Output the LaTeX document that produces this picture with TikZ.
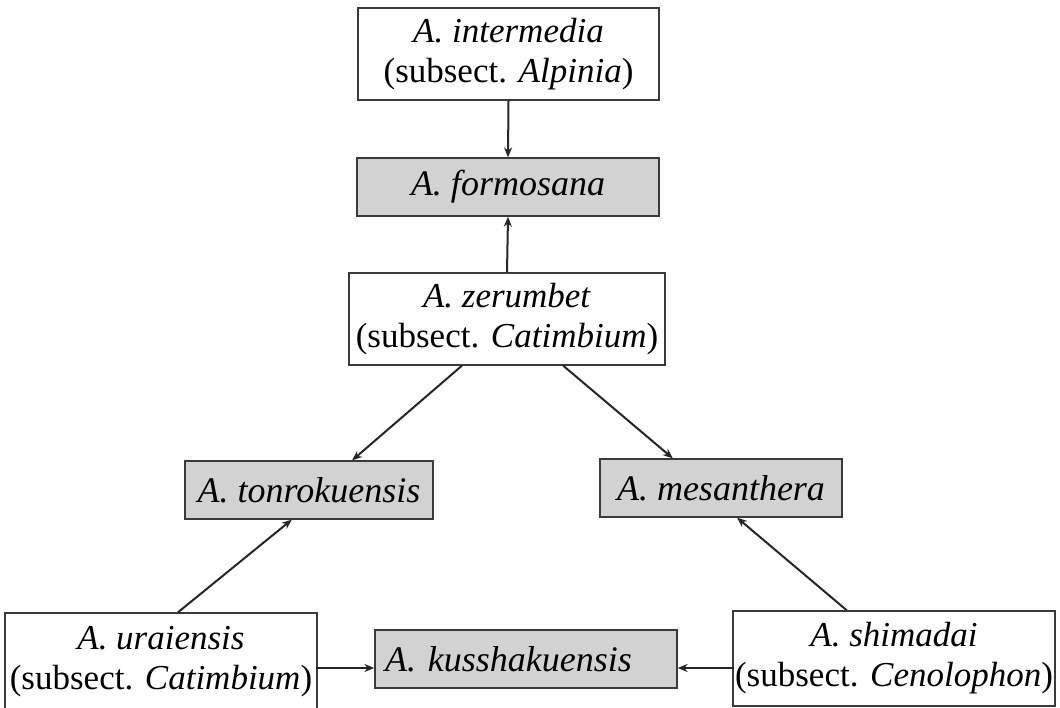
\documentclass[tikz,border=0pt]{standalone}
\usepackage{fontspec}
\setmainfont{Liberation Serif}
\usetikzlibrary{arrows.meta,calc}
\definecolor{boxline}{HTML}{3A3A3A}
\definecolor{boxgray}{HTML}{D2D2D2}
\begin{document}
\begin{tikzpicture}[x=1pt,y=-1pt,
  whitebox/.style={draw=boxline,line width=1.3pt,fill=white,inner sep=0pt,align=center,
    font=\fontsize{35}{40}\selectfont},
  graybox/.style={draw=boxline,line width=1.3pt,fill=boxgray,inner sep=0pt,align=center,
    font=\fontsize{36}{40}\selectfont},
  link/.style={draw=black!85,line width=2pt,-{Stealth[length=10pt,width=8pt]}}]
\useasboundingbox (0,0) rectangle (1060,708);
\fill[white] (0,0) rectangle (1060,708);

\node[whitebox,minimum width=301,minimum height=92] (int) at (508.5,54)
  {\textit{A. intermedia}\\(subsect. \textit{Alpinia})};
\node[graybox,minimum width=302,minimum height=58] (for) at (508,187)
  {\textit{A. formosana}};
\node[whitebox,minimum width=316,minimum height=92] (zer) at (507,319)
  {\textit{A. zerumbet}\\(subsect. \textit{Catimbium})};
\node[graybox,minimum width=248,minimum height=58] (ton) at (309,490)
  {\textit{A. tonrokuensis}};
\node[graybox,minimum width=242,minimum height=58] (mes) at (721,488)
  {\textit{A. mesanthera}};
\node[whitebox,minimum width=312,minimum height=97] (ura) at (161,661.5)
  {\textit{A. uraiensis}\\(subsect. \textit{Catimbium})};
\node[whitebox,minimum width=322,minimum height=95] (shi) at (894,658.5)
  {\textit{A. shimadai}\\(subsect. \textit{Cenolophon})};
\node[graybox,minimum width=302,minimum height=58,text width=282,align=left,inner xsep=10pt] (kus) at (526,659)
  {\textit{A. kusshakuensis}};

\draw[link] (int.south) -- (for.north);
\draw[link] (zer.north) -- (for.south);
\draw[link] ($(zer.south west)!0.358!(zer.south east)$) -- ($(ton.north west)!0.673!(ton.north east)$);
\draw[link] ($(zer.south west)!0.677!(zer.south east)$) -- ($(mes.north west)!0.302!(mes.north east)$);
\draw[link] ($(ura.north west)!0.554!(ura.north east)$) -- ($(ton.south west)!0.431!(ton.south east)$);
\draw[link] ($(shi.north west)!0.354!(shi.north east)$) -- ($(mes.south west)!0.566!(mes.south east)$);
\draw[link] ($(kus.west)+(-58,9)$) coordinate (uraR) -- ($(kus.west)+(0,9)$);
\draw[link] ($(kus.east)+(56,9)$) coordinate (shiL) -- ($(kus.east)+(0,9)$);
\end{tikzpicture}
\end{document}
